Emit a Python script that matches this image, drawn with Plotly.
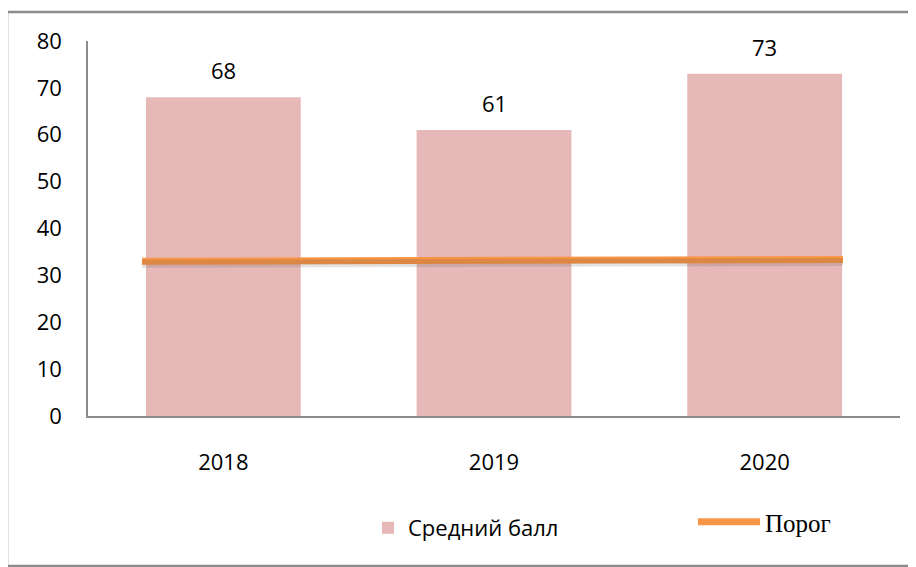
import plotly.graph_objects as go

years = ["2018", "2019", "2020"]
avg_score = [68, 61, 73]
threshold = [33.0, 33.2, 33.4]
y_ticks = [0, 10, 20, 30, 40, 50, 60, 70, 80]

BAR = "#E6B9B8"
ORANGE = "#F79646"
AXIS = "#8C8C8C"
FONT = "Open Sans"

OFF = 8  # page body margin
PAGE_W, PAGE_H = 916, 567
W, H = PAGE_W - OFF, PAGE_H - OFF
# plot area in page pixel coordinates
PX0, PX1, PY0, PY1 = 88, 900, 41, 416
L, R, T, B = PX0 - OFF, W - (PX1 - OFF), PY0 - OFF, H - (PY1 - OFF)
pw, ph = PX1 - PX0, PY1 - PY0

def px_x(p):
    return (p - PX0) / pw

def px_y(p):
    return (PY1 - p) / ph

fig = go.Figure()
fig.add_trace(go.Bar(
    x=years, y=avg_score, name="Средний балл",
    marker=dict(color=BAR, line=dict(width=0)),
    legend="legend",
))
# soft shadow of the threshold line (same data, axis shifted a few px down)
fig.add_trace(go.Scatter(
    x=years, y=threshold, xaxis="x2", yaxis="y2", mode="lines",
    line=dict(color="rgba(60,60,60,0.14)", width=8),
    showlegend=False, hoverinfo="skip",
))
fig.add_trace(go.Scatter(
    x=years, y=threshold, xaxis="x2", mode="lines", name="Порог",
    line=dict(color=ORANGE, width=7),
    legend="legend2",
))

for i, v in enumerate(avg_score):
    fig.add_annotation(x=i, y=v, xref="x", yref="y", text=str(v),
                       showarrow=False, yanchor="middle", yshift=27,
                       font=dict(family=FONT, size=22, color="#000"))

shift = 2.5 * 80 / ph
fig.update_layout(
    width=W, height=H,
    margin=dict(l=L, r=R, t=T, b=B),
    paper_bgcolor="white", plot_bgcolor="white",
    bargap=0.428,
    showlegend=True,
    font=dict(family=FONT, size=22, color="#000"),
    xaxis=dict(type="category", range=[-0.5, 2.5], showline=True,
               linecolor=AXIS, linewidth=1.5, showgrid=False,
               ticks="outside", ticklen=26, tickcolor="rgba(0,0,0,0)",
               tickfont=dict(family=FONT, size=22)),
    xaxis2=dict(type="category", overlaying="x", range=[-0.1541, 2.1626],
                visible=False),
    yaxis=dict(range=[0, 80], tickvals=y_ticks, showline=True,
               linecolor=AXIS, linewidth=1.5, showgrid=False, zeroline=False,
               ticks="outside", ticklen=20, tickcolor="rgba(0,0,0,0)",
               tickfont=dict(family=FONT, size=22)),
    yaxis2=dict(overlaying="y", range=[shift, 80 + shift], visible=False),
    legend=dict(orientation="h", x=px_x(368), y=px_y(507), xanchor="left",
                yanchor="top", font=dict(family=FONT, size=22),
                bgcolor="rgba(0,0,0,0)"),
    legend2=dict(orientation="h", x=px_x(693), y=px_y(499), xanchor="left",
                 yanchor="top", itemwidth=62,
                 font=dict(family="Liberation Serif", size=25),
                 bgcolor="rgba(0,0,0,0)"),
    shapes=[dict(type="rect", xref="paper", yref="paper",
                 x0=px_x(7), x1=px_x(940), y0=px_y(566), y1=px_y(12),
                 line=dict(color="#8C8C8C", width=2.5), layer="below")],
)

fig.write_html("out.html")
